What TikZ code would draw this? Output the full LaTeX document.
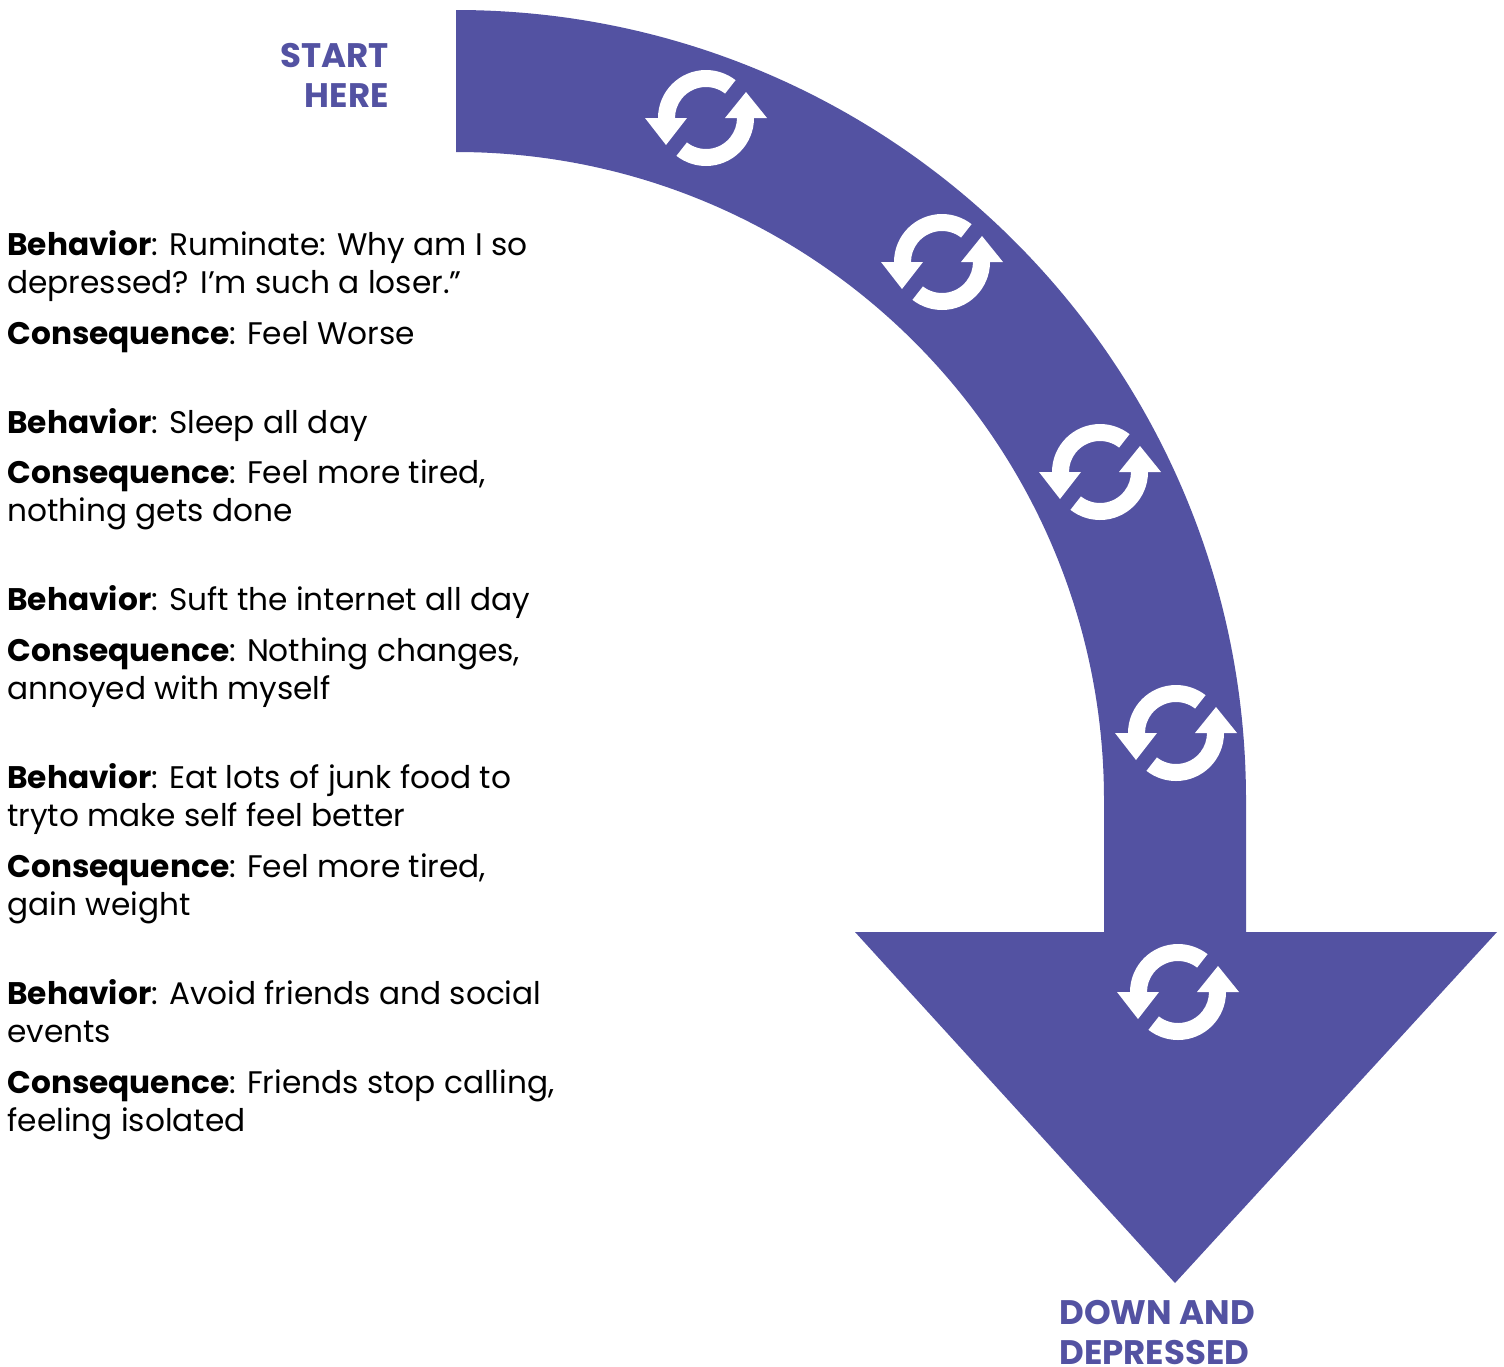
\documentclass[tikz,border=0pt]{standalone}
\usepackage{fontspec}
\setmainfont{Poppins}
\usepackage{tikz}
\definecolor{spiral}{HTML}{5352A2}

\tikzset{
  note/.style={anchor=base west, align=left, inner sep=0pt, font=\fontsize{15.6}{19}\selectfont},
  banner/.style={align=#1, inner sep=0pt, text=spiral, font=\fontsize{17}{20}\selectfont\bfseries},
  loopicon/.pic={
    \fill[white] (180:48) arc[start angle=180, end angle=52, radius=48] -- (52:31) arc[start angle=52, end angle=180, radius=31] -- cycle;
    \fill[white] (0:48) arc[start angle=0, end angle=-128, radius=48] -- (-128:31) arc[start angle=-128, end angle=0, radius=31] -- cycle;
    \fill[white] (-61,0) -- (-19,0) -- (-40,-27) -- cycle;
    \fill[white] (19,0) -- (61,0) -- (40,26) -- cycle;
  }
}

\begin{document}
\begin{tikzpicture}[x=0.5pt,y=0.5pt] % 1 unit = 1 pixel

  \useasboundingbox (0,0) rectangle (1504,-1366);

  % Mui ten cong
  \fill[spiral] (456,-10) arc[start angle=90, end angle=0, radius=790] % canh ngoai
    -- (1246,-932) -- (1497,-932) -- (1175,-1283) -- (855,-932) -- (1104,-932)
    -- (1104,-800) arc[start angle=0, end angle=90, radius=648] % canh trong
    -- cycle;

  % Bieu tuong vong lap
  \foreach \x/\y in {706/118, 942/262, 1100/472, 1176/733, 1178/992}
    \pic at (\x,-\y) {loopicon};

  % Nhan dau va cuoi (goc = dong cuoi)
  \node[banner=right, anchor=base east] (start) at (389,-107) {START\\HERE};
  \node[banner=left, anchor=base west] (finish) at (1059,-1364) {DOWN AND\\DEPRESSED};

  % Hanh vi va hau qua (goc = dong cuoi)
  \node[note] (b1) at (7,-293) {\textbf{Behavior}: Ruminate: Why am I so\\depressed? I’m such a loser.”};
  \node[note] (c1) at (7,-344) {\textbf{Consequence}: Feel Worse};

  \node[note] (b2) at (7,-433) {\textbf{Behavior}: Sleep all day};
  \node[note] (c2) at (7,-521) {\textbf{Consequence}: Feel more tired,\\nothing gets done};

  \node[note] (b3) at (7,-610) {\textbf{Behavior}: Suft the internet all day};
  \node[note] (c3) at (7,-699) {\textbf{Consequence}: Nothing changes,\\annoyed with myself};

  \node[note] (b4) at (7,-826) {\textbf{Behavior}: Eat lots of junk food to\\tryto make self feel better};
  \node[note] (c4) at (7,-915) {\textbf{Consequence}: Feel more tired,\\gain weight};

  \node[note] (b5) at (7,-1042) {\textbf{Behavior}: Avoid friends and social\\events};
  \node[note] (c5) at (7,-1131) {\textbf{Consequence}: Friends stop calling,\\feeling isolated};

\end{tikzpicture}
\end{document}
